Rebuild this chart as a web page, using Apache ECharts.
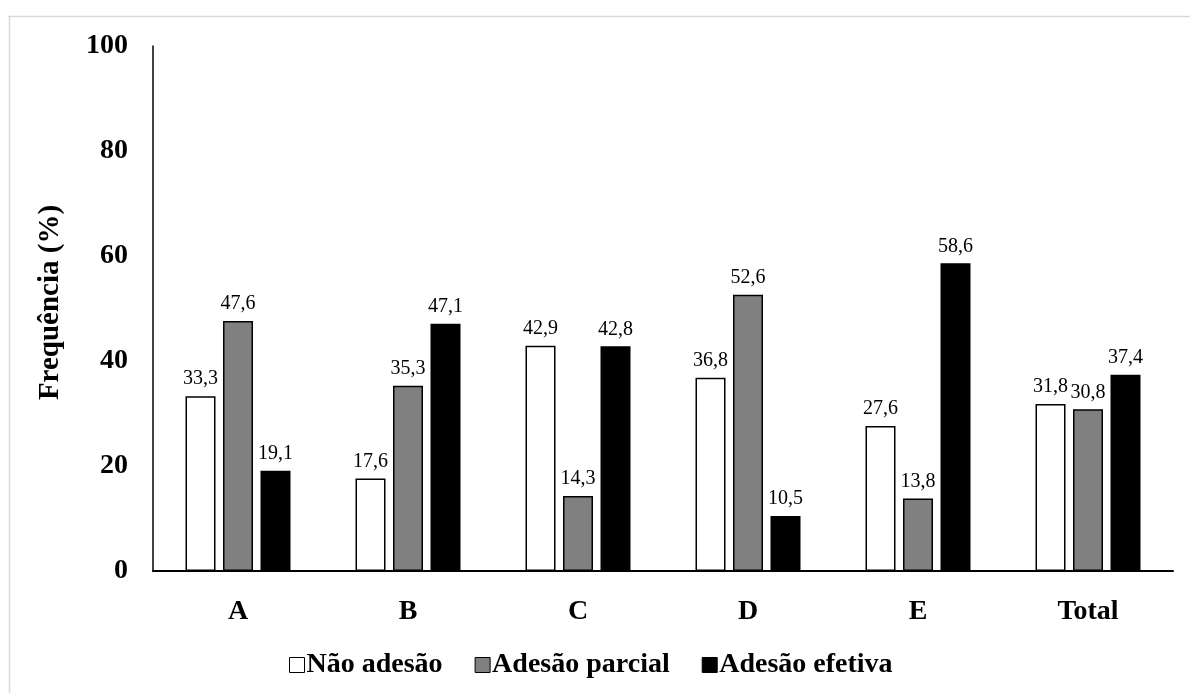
<!DOCTYPE html>
<html>
<head>
<meta charset="utf-8">
<script src="https://cdn.jsdelivr.net/npm/echarts@6/dist/echarts.min.js"></script>
<style>html,body{margin:0;padding:0;background:#fff;}#c{width:1190px;height:693px;}</style>
</head>
<body>
<div id="c"></div>
<script>
const categories = ['A', 'B', 'C', 'D', 'E', 'Total'];
const naoAdesao = [33.3, 17.6, 42.9, 36.8, 27.6, 31.8];
const adesaoParcial = [47.6, 35.3, 14.3, 52.6, 13.8, 30.8];
const adesaoEfetiva = [19.1, 47.1, 42.8, 10.5, 58.6, 37.4];
const seriesNames = ['Não adesão', 'Adesão parcial', 'Adesão efetiva'];
const yTicks = [0, 20, 40, 60, 80, 100];

const serif = '"Liberation Serif", "Times New Roman", serif';
const chart = echarts.init(document.getElementById('c'), null, {renderer: 'canvas'});

function mk(name, data, color) {
  return {
    name: name,
    type: 'bar',
    data: data,
    barWidth: 30,
    barGap: '25%',
    itemStyle: {color: color, borderColor: '#000', borderWidth: 1.5},
    label: {
      show: true, position: 'top', distance: 7,
      fontFamily: serif, fontSize: 20, color: '#000',
      formatter: p => p.value.toFixed(1).replace('.', ',')
    }
  };
}

chart.setOption({
  animation: false,
  backgroundColor: '#fff',
  grid: {left: 153, right: 17, top: 46, bottom: 122, containLabel: false},
  graphic: [
    {type: 'line', shape: {x1: 8, y1: 16.5, x2: 1190, y2: 16.5}, style: {stroke: '#d9d9d9', lineWidth: 1.5}},
    {type: 'line', shape: {x1: 9.5, y1: 16, x2: 9.5, y2: 693}, style: {stroke: '#d9d9d9', lineWidth: 1.5}}
  ],
  legend: {
    data: seriesNames,
    top: 646,
    left: 284,
    icon: 'rect',
    itemWidth: 15,
    itemHeight: 15,
    itemGap: 32,
    textStyle: {fontFamily: serif, fontSize: 28, fontWeight: 'bold', color: '#000', padding: [0, 0, 0, -3]},
    itemStyle: {borderColor: '#000', borderWidth: 1}
  },
  xAxis: {
    type: 'category',
    data: categories,
    axisLine: {lineStyle: {color: '#000', width: 2}},
    axisTick: {show: false},
    axisLabel: {fontFamily: serif, fontSize: 28, fontWeight: 'bold', color: '#000', margin: 27}
  },
  yAxis: {
    type: 'value',
    min: 0, max: 100, interval: 20,
    name: 'Frequência (%)',
    nameLocation: 'middle',
    nameGap: 88,
    nameRotate: 90,
    nameTextStyle: {fontFamily: serif, fontSize: 29, fontWeight: 'bold', color: '#000', padding: [0, 0, 0, 12]},
    axisLine: {show: true, lineStyle: {color: '#000', width: 1.5}},
    axisTick: {show: false},
    splitLine: {show: false},
    axisLabel: {fontFamily: serif, fontSize: 28, fontWeight: 'bold', color: '#000', margin: 25,
      formatter: v => yTicks.includes(v) ? String(v) : ''}
  },
  series: [
    mk(seriesNames[0], naoAdesao, '#ffffff'),
    mk(seriesNames[1], adesaoParcial, '#808080'),
    mk(seriesNames[2], adesaoEfetiva, '#000000')
  ]
});
</script>
</body>
</html>
